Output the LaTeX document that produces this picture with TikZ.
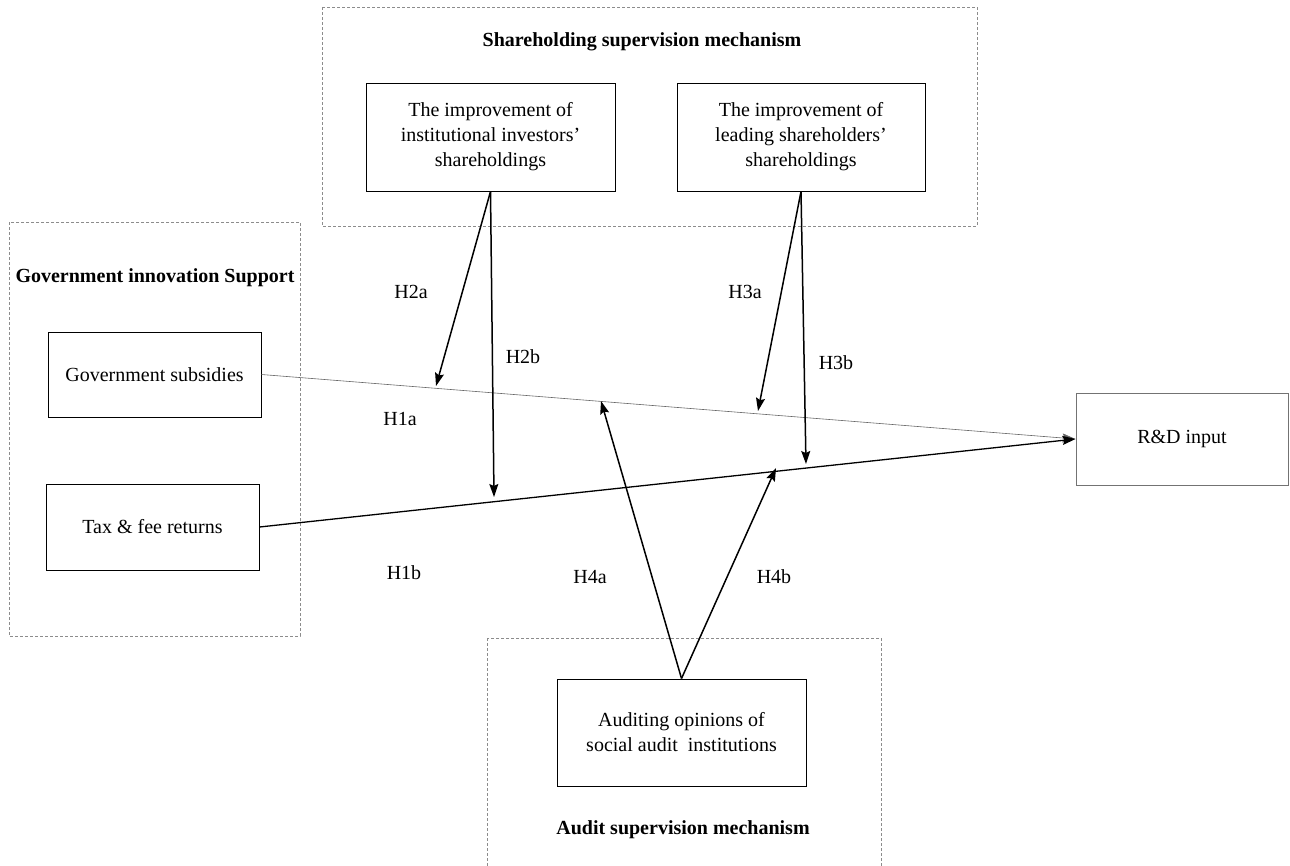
\documentclass[tikz,border=0pt]{standalone}
\usepackage{fontspec}
\setmainfont{Liberation Serif}
\usetikzlibrary{arrows.meta}
\begin{document}
\begin{tikzpicture}[x=1pt,y=-1pt,
  txt/.style={font=\fontsize{20}{25}\selectfont},
  ttl/.style={font=\fontsize{20}{25}\selectfont\bfseries},
  box/.style={draw=black,line width=1pt,align=center,inner sep=0pt,txt},
  grp/.style={draw=black!45,line width=0.8pt,dash pattern=on 3pt off 2pt},
  arr/.style={line width=1.5pt,-{Stealth[length=13pt,width=9pt,inset=2pt]}},
  lab/.style={txt,inner sep=0pt}]
\useasboundingbox (0,0) rectangle (1290,865);
% group frames
\draw[grp] (322,7) rectangle (977,226);
\draw[grp] (9,222) rectangle (300,636);
\draw[grp] (487,638) rectangle (881,880);
% titles
\node[ttl] (t1) at (642,42) {Shareholding supervision mechanism};
\node[ttl] (t2) at (155,278) {Government innovation Support};
\node[ttl] (t3) at (683,830) {Audit supervision mechanism};
% boxes
\node[box,minimum width=249pt,minimum height=108pt] (inst) at (490.5,137) {The improvement of\\institutional investors'\\shareholdings};
\node[box,minimum width=248pt,minimum height=108pt] (lead) at (801,137) {The improvement of\\leading shareholders'\\shareholdings};
\node[box,minimum width=213pt,minimum height=85pt] (sub) at (154.5,374.5) {Government subsidies};
\node[box,minimum width=213pt,minimum height=86pt] (tax) at (152.5,527) {Tax \& fee returns};
\node[box,draw=black!55,minimum width=212pt,minimum height=92pt] (rd) at (1182,439) {R\&D input};
\node[box,minimum width=249pt,minimum height=107pt] (aud) at (681.5,732.5) {Auditing opinions of\\social audit\ \ institutions};
% targets
\coordinate (p2a) at (436,386);
\coordinate (p2b) at (494,497);
\coordinate (p3a) at (758,411);
\coordinate (p3b) at (806,464);
\coordinate (p4a) at (601,401);
\coordinate (p4b) at (776,468);
% main paths
\draw[line width=0.6pt,draw=black!60,-{Stealth[length=13pt,width=9pt,inset=2pt]}] (sub.east) -- (rd.west);
\draw[line width=1.3pt,-{Stealth[length=13pt,width=9pt,inset=2pt]}] (tax.east) -- (rd.west);
% moderators
\draw[arr] (inst.south) -- (p2a);
\draw[arr] (inst.south) -- (p2b);
\draw[arr] (lead.south) -- (p3a);
\draw[arr] (lead.south) -- (p3b);
\draw[arr] (aud.north) -- (p4a);
\draw[arr] (aud.north) -- (p4b);
% labels
\node[lab] (h2a) at (411,292) {H2a};
\node[lab] (h2b) at (523,357) {H2b};
\node[lab] (h3a) at (745,292) {H3a};
\node[lab] (h3b) at (836,363) {H3b};
\node[lab] (h1a) at (400,419) {H1a};
\node[lab] (h1b) at (404,573) {H1b};
\node[lab] (h4a) at (590,577) {H4a};
\node[lab] (h4b) at (774,577) {H4b};
\end{tikzpicture}
\end{document}
